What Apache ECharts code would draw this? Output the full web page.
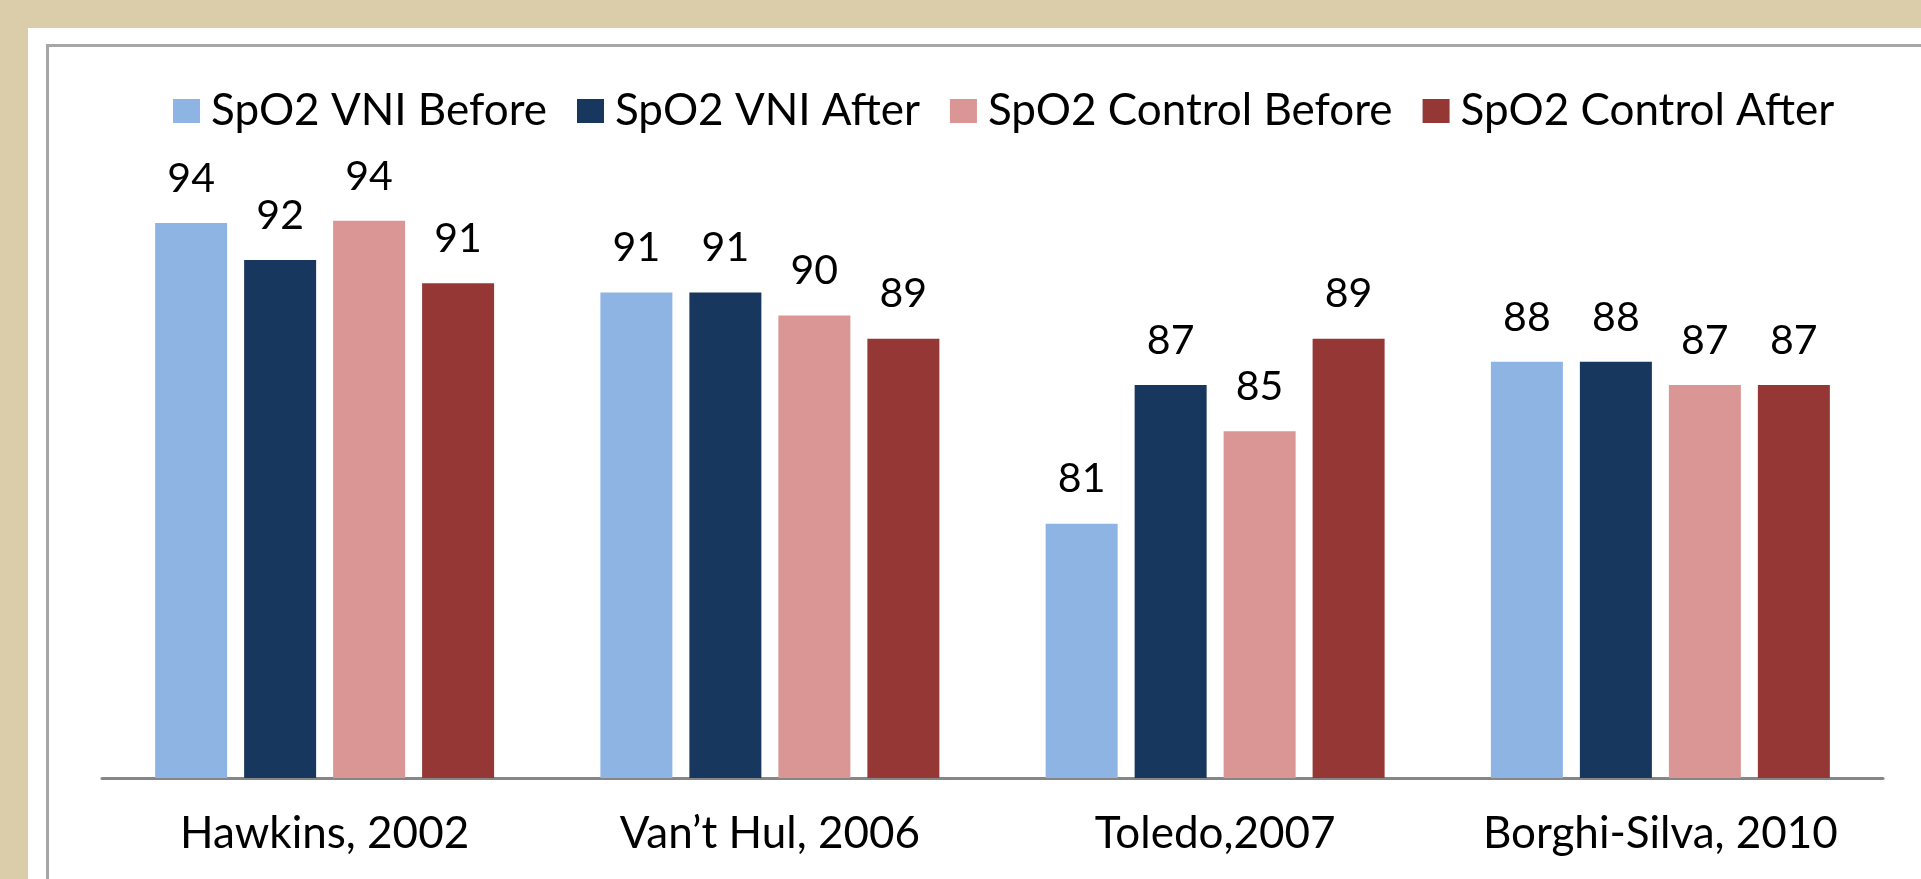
<!DOCTYPE html>
<html>
<head>
<meta charset="utf-8">
<title>SpO2 VNI vs Control</title>
<script src="https://cdn.jsdelivr.net/npm/echarts@6/dist/echarts.min.js"></script>
<style>
  html, body { margin: 0; padding: 0; width: 1921px; height: 879px; overflow: hidden; background: #DBCDAA; }
  #paper { position: absolute; left: 28px; top: 28px; right: 0; bottom: 0; background: #fff; }
  #frame { position: absolute; left: 46px; top: 44px; width: 1900px; height: 900px; border: 3px solid #A6A6A6; box-sizing: border-box; }
  #chart { position: absolute; left: 0; top: 0; width: 1921px; height: 879px; }
</style>
</head>
<body>
<div id="paper"></div>
<div id="frame"></div>
<div id="chart"></div>
<script>
const categories = ['Hawkins, 2002', 'Van\u2019t Hul, 2006', 'Toledo,2007', 'Borghi-Silva, 2010'];
const seriesNames = ['SpO2 VNI Before', 'SpO2 VNI After', 'SpO2 Control Before', 'SpO2 Control After'];
const vniBefore = [94, 91, 81, 88];
const vniAfter = [92.4, 91, 87, 88];
const controlBefore = [94.1, 90, 85, 87];
const controlAfter = [91.4, 89, 89, 87];

const colors = ['#8EB4E3', '#17375E', '#D99694', '#953735'];
const font = 'Lato';

const chart = echarts.init(document.getElementById('chart'));

function barSeries(name, data, color) {
    return {
        name: name,
        type: 'bar',
        data: data,
        barWidth: 72,
        barGap: '23.6%',
        itemStyle: { color: color },
        label: {
            show: true,
            position: 'top',
            distance: 24,
            color: '#000',
            fontFamily: font,
            fontSize: 41,
            formatter: p => Math.round(p.value)
        }
    };
}

const option = {
    backgroundColor: 'transparent',
    animation: false,
    legend: {
        left: 168,
        top: 84,
        icon: 'rect',
        itemWidth: 27,
        itemHeight: 24,
        itemGap: 30,
        textStyle: { color: '#000', fontFamily: font, fontSize: 44, padding: [0, 0, 0, 6] },
        data: seriesNames
    },
    grid: { left: 102, right: 38, top: 200, bottom: 101, containLabel: false },
    xAxis: {
        type: 'category',
        data: categories,
        axisTick: { show: false },
        axisLine: { show: true, lineStyle: { color: '#868686', width: 3 } },
        axisLabel: { color: '#000', fontFamily: font, fontSize: 44, margin: 34, interval: 0, hideOverlap: false }
    },
    yAxis: {
        type: 'value',
        min: 70,
        max: 95,
        show: false
    },
    series: [
        barSeries(seriesNames[0], vniBefore, colors[0]),
        barSeries(seriesNames[1], vniAfter, colors[1]),
        barSeries(seriesNames[2], controlBefore, colors[2]),
        barSeries(seriesNames[3], controlAfter, colors[3])
    ]
};

chart.setOption(option);
window.addEventListener('resize', () => chart.resize());
</script>
</body>
</html>
